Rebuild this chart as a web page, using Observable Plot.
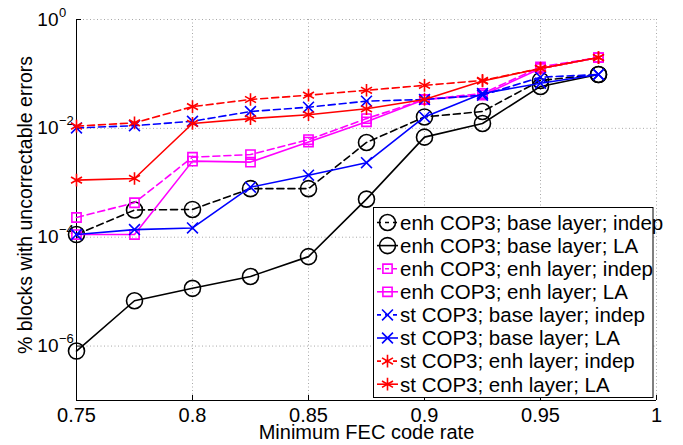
<!DOCTYPE html>
<html><head><meta charset="utf-8">
<script src="https://cdn.jsdelivr.net/npm/d3@7"></script>
<script src="https://cdn.jsdelivr.net/npm/@observablehq/plot@0.6"></script>
<style>
body{margin:0;background:#fff;}
#chart svg{font-family:"Liberation Sans",Arial,Helvetica,sans-serif;}
</style>
</head><body><div id="chart"></div>
<script>
// ---- data ----
const rates = [0.75, 0.775, 0.8, 0.825, 0.85, 0.875, 0.9, 0.925, 0.95, 0.975];
const xTicks = [0.75, 0.8, 0.85, 0.9, 0.95, 1];
const xTickLabels = ["0.75", "0.8", "0.85", "0.9", "0.95", "1"];
const yTicks = [1e-6, 1e-4, 1e-2, 1];
const yTickExponents = ["\u22126", "\u22124", "\u22122", "0"];
const xLabel = "Minimum FEC code rate";
const yLabel = "% blocks with uncorrectable errors";

const enhBaseIndep = [1.12e-4, 3.16e-4, 3.24e-4, 7.8e-4, 7.8e-4, 5.5e-3, 0.0162, 0.0204, 0.0759, 0.0977];
const enhBaseLA    = [8.1e-7, 6.8e-6, 1.15e-5, 1.9e-5, 4.4e-5, 5.0e-4, 6.9e-3, 0.0123, 0.0589, 0.0977];
const enhEnhIndep  = [2.3e-4, 4.3e-4, 2.95e-3, 3.3e-3, 6.2e-3, 0.0151, 0.0339, 0.0437, 0.135, 0.200];
const enhEnhLA     = [1.12e-4, 1.12e-4, 2.5e-3, 2.4e-3, 5.6e-3, 0.0132, 0.0339, 0.0407, 0.126, 0.200];
const stBaseIndep  = [0.0102, 0.0112, 0.0135, 0.0204, 0.0245, 0.0316, 0.0339, 0.0407, 0.087, 0.0977];
const stBaseLA     = [1.12e-4, 1.38e-4, 1.48e-4, 8.3e-4, 1.38e-3, 2.34e-3, 0.0162, 0.0437, 0.0676, 0.0977];
const stEnhIndep   = [0.0110, 0.0126, 0.0251, 0.0339, 0.0407, 0.0501, 0.0617, 0.0759, 0.126, 0.200];
const stEnhLA      = [1.12e-3, 1.20e-3, 0.0123, 0.0151, 0.0178, 0.0229, 0.0339, 0.0741, 0.126, 0.200];

const seriesNames = [
  "enh COP3; base layer; indep", "enh COP3; base layer; LA",
  "enh COP3; enh layer; indep", "enh COP3; enh layer; LA",
  "st COP3; base layer; indep", "st COP3; base layer; LA",
  "st COP3; enh layer; indep", "st COP3; enh layer; LA"
];
const seriesValues = [enhBaseIndep, enhBaseLA, enhEnhIndep, enhEnhLA, stBaseIndep, stBaseLA, stEnhIndep, stEnhLA];
const seriesColors = ["#000000", "#000000", "#ff00ff", "#ff00ff", "#0000ff", "#0000ff", "#ff0000", "#ff0000"];
const seriesSymbols = ["circle", "circle", "square", "square", "times", "times", "asterisk", "asterisk"];
const seriesDashed = [true, false, true, false, true, false, true, false];

// ---- styles ----
const symbolR = {circle: 8, square: 5.2, times: 5, asterisk: 6};
const lw = 1.6;
const gridStroke = "#a8a8a8";

const marks = [
  Plot.ruleX(xTicks, {x: d => d, stroke: gridStroke, strokeDasharray: "1,2.5", strokeWidth: 1}),
  Plot.ruleY(yTicks, {y: d => d, stroke: gridStroke, strokeDasharray: "1,2.5", strokeWidth: 1}),
  Plot.ruleX([0.75], {x: d => d, stroke: "black", strokeWidth: 1}),
  Plot.ruleY([1e-7], {y: d => d, stroke: "black", strokeWidth: 1}),
  Plot.ruleX(xTicks, {x: d => d, stroke: "black", strokeWidth: 1, insetTop: 376}),
  Plot.ruleY(yTicks, {y: d => d, stroke: "black", strokeWidth: 1, insetRight: 575}),
  Plot.text(xTicks, {x: d => d, frameAnchor: "bottom", text: (d, i) => xTickLabels[i], textAnchor: "middle", lineAnchor: "top", dy: 7, fontSize: 20, fill: "black"}),
  Plot.text(yTicks, {y: d => d, frameAnchor: "left", text: () => "10", textAnchor: "end", dx: -18, dy: 0, fontSize: 19, fill: "black"}),
  Plot.text(yTicks, {y: d => d, frameAnchor: "left", text: (d, i) => yTickExponents[i], textAnchor: "start", lineAnchor: "bottom", dx: -17.5, dy: -3, fontSize: 13, fill: "black"}),
  Plot.text([xLabel], {frameAnchor: "bottom", text: d => d, textAnchor: "middle", lineAnchor: "top", dy: 24, fontSize: 20, fill: "black"}),
  Plot.text([yLabel], {frameAnchor: "left", text: d => d, textAnchor: "middle", rotate: -90, dx: -51, dy: -5, fontSize: 19.5, fill: "black"})
];

seriesValues.forEach((vals, s) => {
  const rows = rates.map((r, i) => ({rate: r, value: vals[i]}));
  marks.push(Plot.line(rows, {x: "rate", y: "value", stroke: seriesColors[s], strokeWidth: lw,
    strokeDasharray: seriesDashed[s] ? "7,4" : null}));
  marks.push(Plot.dot(rows, {x: "rate", y: "value", stroke: seriesColors[s], fill: "none", strokeWidth: lw,
    symbol: seriesSymbols[s], r: symbolR[seriesSymbols[s]]}));
});

const chart = Plot.plot({
  width: 683,
  height: 445,
  marginLeft: 76,
  marginRight: 27,
  marginTop: 19,
  marginBottom: 45,
  style: {background: "white", fontFamily: "Liberation Sans, Arial, sans-serif", fontSize: "19px", overflow: "visible"},
  x: {domain: [0.75, 1], axis: null},
  y: {type: "log", domain: [1e-7, 1], axis: null},
  marks
});
document.getElementById("chart").appendChild(chart);

// ---- legend (inside plot area, upper-left corner at 373,207) ----
const svg = d3.select(chart);
const lg = svg.append("g").attr("font-family", "Liberation Sans, Arial, sans-serif").attr("text-anchor", "start");
lg.append("rect").attr("x", 373.5).attr("y", 207.5).attr("width", 279.5).attr("height", 190)
  .attr("fill", "white").attr("stroke", "black").attr("stroke-width", 1);
const symbolMap = {circle: d3.symbolCircle, square: d3.symbolSquare, times: d3.symbolTimes, asterisk: d3.symbolAsterisk};
seriesNames.forEach((name, i) => {
  const cy = 222.5 + i * 23.1;
  const sym = seriesSymbols[i];
  const r = symbolR[sym];
  lg.append("line").attr("x1", 377).attr("x2", 398).attr("y1", cy).attr("y2", cy)
    .attr("stroke", seriesColors[i]).attr("stroke-width", lw)
    .attr("stroke-dasharray", seriesDashed[i] ? "4,4" : null);
  if (sym === "circle") {
    lg.append("circle").attr("cx", 387.5).attr("cy", cy).attr("r", r)
      .attr("fill", "none").attr("stroke", seriesColors[i]).attr("stroke-width", lw);
  } else {
    lg.append("path").attr("transform", `translate(387.5,${cy})`)
      .attr("d", d3.symbol(symbolMap[sym], Math.PI * r * r)())
      .attr("fill", "none").attr("stroke", seriesColors[i]).attr("stroke-width", lw);
  }
  lg.append("text").attr("x", 400).attr("y", cy).attr("dy", "0.36em").attr("text-anchor", "start")
    .attr("font-size", 20.5).attr("fill", "black").text(name);
});
</script>
</body></html>
